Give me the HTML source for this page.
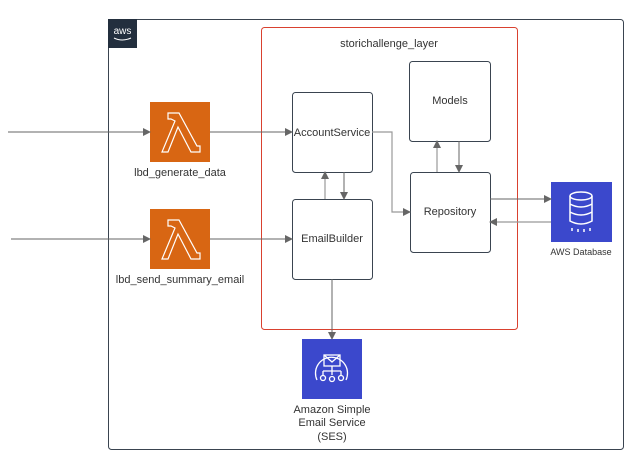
<!DOCTYPE html>
<html><head><style>
body{margin:0;background:#fff;}
svg text{font-family:"Liberation Sans",sans-serif;fill:#333;}
</style></head><body>
<svg width="632" height="463" viewBox="0 0 632 463" xmlns="http://www.w3.org/2000/svg">
<defs>
<marker id="a" markerWidth="8" markerHeight="8" refX="7" refY="4" orient="auto" markerUnits="userSpaceOnUse"><path d="M0,0 L8,4 L0,8 z" fill="#666"/></marker>
</defs>
<rect x="108.5" y="19.5" width="515" height="430" rx="3" fill="none" stroke="#3a4450" stroke-width="1"/>
<rect x="108" y="19" width="29" height="29" fill="#232f3e"/>
<text x="122.5" y="34" font-size="10" text-anchor="middle" style="fill:#fff">aws</text>
<path d="M114,38 Q122,42 131,38" stroke="#fff" fill="none" stroke-width="1"/>
<rect x="261.5" y="27.5" width="256" height="302" rx="3" fill="none" stroke="#d9412f" stroke-width="1"/>
<text x="389" y="47" font-size="11" text-anchor="middle">storichallenge_layer</text>
<g fill="#fff" stroke="#3a4450" stroke-width="1">
<rect x="409.5" y="61.5" width="81" height="80" rx="3"/>
<rect x="292.5" y="92.5" width="80" height="80" rx="3"/>
<rect x="292.5" y="199.5" width="80" height="80" rx="3"/>
<rect x="410.5" y="172.5" width="80" height="80" rx="3"/>
</g>
<text x="450" y="104" font-size="11" text-anchor="middle">Models</text>
<text x="332" y="136" font-size="11" text-anchor="middle">AccountService</text>
<text x="332" y="242" font-size="11" text-anchor="middle">EmailBuilder</text>
<text x="450" y="215" font-size="11" text-anchor="middle">Repository</text>
<rect x="150" y="102" width="60" height="60" fill="#d86613"/>
<path d="M168,113 L179,113 L197,146 L200,146 L200,152 L191,152 L178,127 L168,152 L162,152 L175,121 L171,119 L168,119 Z" fill="none" stroke="#fff" stroke-width="1.2"/>
<rect x="150" y="209" width="60" height="60" fill="#d86613"/>
<path d="M168,220 L179,220 L197,253 L200,253 L200,259 L191,259 L178,234 L168,259 L162,259 L175,228 L171,226 L168,226 Z" fill="none" stroke="#fff" stroke-width="1.2"/>
<text x="180" y="176" font-size="11" text-anchor="middle">lbd_generate_data</text>
<text x="180" y="283" font-size="11" text-anchor="middle">lbd_send_summary_email</text>
<rect x="551" y="182" width="61" height="60" fill="#3b48cc"/>
<g fill="none" stroke="#fff" stroke-width="1.5">
<ellipse cx="581" cy="196" rx="11" ry="4"/>
<path d="M570,196 V221 Q581,227 592,221 V196 M570,204 Q581,210 592,204 M570,212 Q581,218 592,212"/>
<path d="M572,228 v3 M578,229 v3 M584,229 v3 M590,228 v3"/>
</g>
<text x="581" y="255" font-size="9" text-anchor="middle">AWS Database</text>
<rect x="302" y="339" width="60" height="60" fill="#3b48cc"/>
<g fill="none" stroke="#fff" stroke-width="1.3">
<path d="M317,380 A16,16 0 1 1 346,380"/>
<rect x="324" y="355" width="16" height="11"/>
<path d="M324,355 L332,362 L340,355 M332,366 v5 M323,371 h18 M323,371 v4 M332,371 v4 M341,371 v4"/>
<circle cx="323" cy="378" r="2.5"/><circle cx="332" cy="379" r="2.5"/><circle cx="341" cy="378" r="2.5"/>
</g>
<text x="332" y="413" font-size="11" text-anchor="middle">Amazon Simple</text>
<text x="332" y="426" font-size="11" text-anchor="middle">Email Service</text>
<text x="332" y="440" font-size="11" text-anchor="middle">(SES)</text>
<g fill="none" stroke="#666" stroke-width="1" marker-end="url(#a)">
<path d="M8,132 H150"/>
<path d="M11,239 H150"/>
<path d="M210,132 H292"/>
<path d="M210,239 H292"/>
<path d="M344,172 V199"/>
<path d="M459,141 V172"/>
<path d="M490,199 H551"/>
<path d="M332,279 V339"/>
</g>
<g fill="none" stroke="#999" stroke-width="1.2" marker-end="url(#a)">
<path d="M325,199 V172"/>
<path d="M437,172 V141"/>
<path d="M372,132 H392 V212 H410"/>
<path d="M551,222 H490"/>
</g>
</svg>
</body></html>
